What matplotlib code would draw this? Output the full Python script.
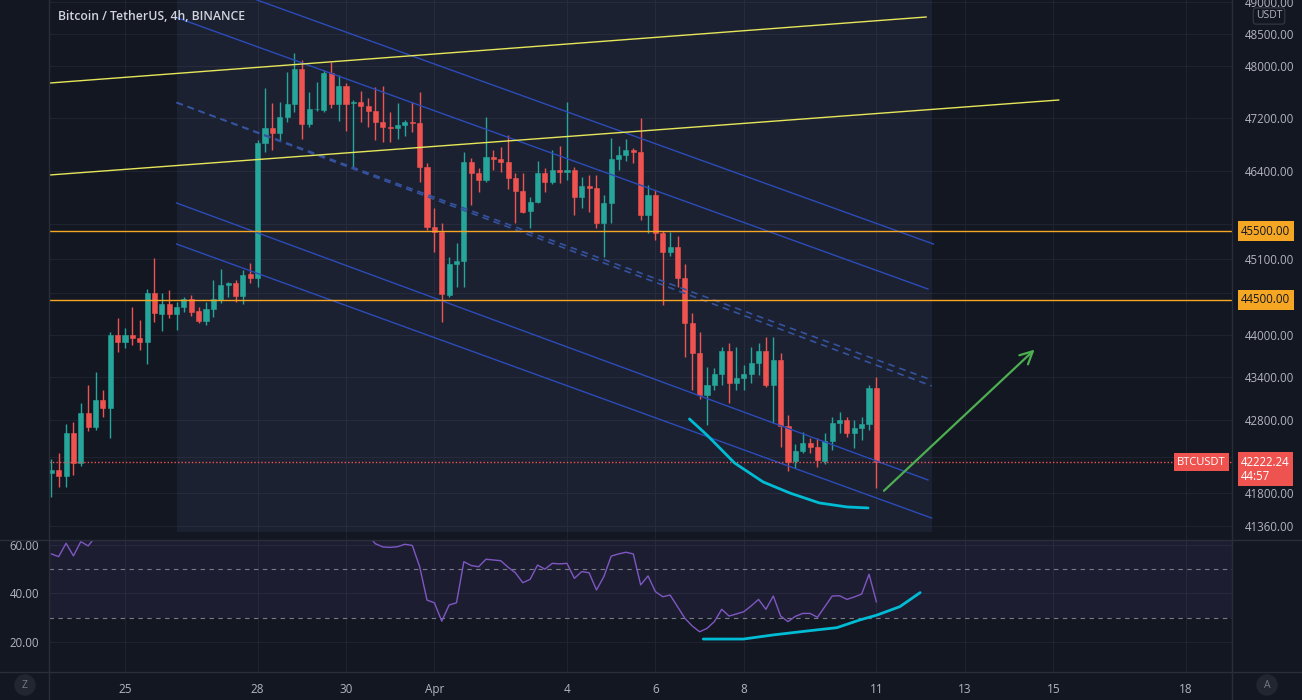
import numpy as np
import pandas as pd
import matplotlib
matplotlib.use('Agg')
import matplotlib.pyplot as plt
import matplotlib.dates as mdates
import matplotlib.transforms as mtransforms
from matplotlib.lines import Line2D
from matplotlib.ticker import NullLocator

# BTC/USDT 4h candles, 2022-03-23 08:00 -> 2022-04-11 00:00
opens = [42075, 42116, 42034, 42623, 42211, 42900, 42706, 43081, 42970, 43997,
         43898, 43997, 43955, 43898, 44599, 44298, 44441, 44298, 44398, 44513,
         44340, 44197, 44369, 44498, 44715, 44744, 44556, 44874, 44816, 46818,
         47046, 46970, 47214, 47414, 47954, 47107, 47330, 47321, 47891, 47414,
         47690, 47429, 47445, 47383, 47306, 47138, 47061, 47050, 47092, 47138,
         47125, 46456, 45562, 45489, 44570, 45020, 45063, 46532, 46366, 46261,
         46607, 46577, 46532, 46291, 46097, 45799, 45933, 46366, 46231, 46411,
         46381, 46411, 46008, 46171, 46141, 45622, 45918, 46577, 46637, 46712,
         46682, 45740, 46038, 45474, 45195, 45268, 44816, 44168, 43742, 43151,
         43291, 43445, 43770, 43319, 43389, 43445, 43600, 43770, 43291, 43642,
         42720, 42239, 42375, 42486, 42431, 42239, 42513, 42761, 42803, 42623,
         42692, 42747, 43249]
highs = [42266, 42348, 42747, 42775, 43039, 43291, 43473, 43221, 44040, 44240,
         44097, 44398, 44211, 44657, 45107, 44599, 44643, 44470, 44542, 44570,
         44398, 44470, 44787, 44947, 44758, 44787, 44933, 45034, 46864, 47660,
         47428, 47444, 47907, 48203, 48094, 47598, 47752, 47938, 48063, 47860,
         47737, 47475, 47614, 47506, 47675, 47690, 47291, 47429, 47168, 47444,
         47598, 46516, 45844, 45622, 45122, 45327, 46682, 46592, 46441, 47214,
         46712, 46757, 46940, 46366, 46366, 46008, 46547, 46441, 46712, 46772,
         47444, 46456, 46306, 46336, 46336, 46038, 46894, 46772, 46879, 46742,
         47199, 46186, 46112, 45500, 45489, 45430, 45020, 44312, 44040, 43543,
         43529, 43826, 43883, 43826, 43571, 43826, 43883, 43968, 43968, 43742,
         42872, 42472, 42637, 42554, 42554, 42623, 42845, 42914, 42845, 42803,
         42845, 43291, 43403]
lows = [41750, 41885, 41885, 42048, 42170, 42650, 42664, 42845, 42554, 43756,
        43812, 43855, 43784, 43586, 44182, 44054, 44240, 44068, 44326, 44269,
        44168, 44140, 44254, 44455, 44542, 44470, 44441, 44744, 44686, 46682,
        46712, 46864, 47138, 47291, 46879, 47061, 47300, 47291, 47352, 47153,
        47000, 46456, 47138, 47061, 46864, 46834, 46834, 46879, 46925, 46986,
        46231, 45518, 45195, 44182, 44542, 44686, 44686, 45888, 46082, 46231,
        46411, 46381, 46127, 45622, 45770, 45548, 45920, 46082, 46201, 46216,
        46261, 45740, 45844, 45785, 45548, 45122, 45622, 46411, 46547, 46516,
        45666, 45474, 45371, 44426, 45136, 44686, 43685, 43221, 43100, 42733,
        43221, 43291, 43039, 43221, 43221, 43319, 43431, 43263, 42761, 42431,
        42102, 42143, 42348, 42348, 42157, 42198, 42389, 42623, 42568, 42417,
        42527, 42664, 41871]
closes = [42116, 42034, 42623, 42211, 42900, 42706, 43081, 42970, 43997, 43898,
          43997, 43955, 43898, 44599, 44312, 44441, 44298, 44398, 44513, 44326,
          44197, 44369, 44513, 44715, 44744, 44556, 44860, 44816, 46818, 47046,
          46970, 47214, 47414, 47954, 47107, 47336, 47340, 47891, 47414, 47690,
          47414, 47445, 47383, 47306, 47138, 47061, 47050, 47092, 47138, 47125,
          46456, 45562, 45489, 44585, 45020, 45063, 46532, 46366, 46261, 46607,
          46577, 46532, 46291, 46097, 45785, 45933, 46366, 46231, 46411, 46381,
          46411, 46008, 46171, 46141, 45622, 45918, 46577, 46637, 46712, 46682,
          45740, 46038, 45474, 45195, 45268, 44816, 44168, 43742, 43151, 43291,
          43445, 43770, 43319, 43389, 43445, 43600, 43770, 43291, 43642, 42720,
          42225, 42375, 42486, 42431, 42252, 42513, 42761, 42803, 42623, 42692,
          42747, 43249, 42222.24]
rsi = [56.3, 55.2, 60.7, 55.5, 61.4, 59.6, 63.5, 62.5, 70.0, 69.0,
       69.5, 69.0, 68.0, 73.0, 68.0, 69.0, 67.5, 68.0, 69.0, 66.5,
       65.0, 67.0, 69.0, 71.0, 71.2, 68.5, 71.0, 70.0, 82.0, 83.5,
       82.0, 83.0, 84.0, 86.0, 72.0, 73.5, 73.5, 76.0, 70.0, 71.5,
       68.0, 68.0, 67.0, 64.0, 60.5, 59.2, 59.0, 59.3, 60.3, 59.8,
       51.0, 37.2, 36.1, 28.5, 35.2, 36.1, 53.1, 51.5, 51.0, 54.1,
       53.8, 53.5, 50.8, 48.5, 44.4, 45.8, 51.7, 50.0, 52.4, 52.2,
       52.4, 46.2, 49.0, 48.5, 41.4, 46.9, 55.4, 56.3, 57.0, 56.3,
       43.5, 47.2, 40.7, 38.6, 39.3, 34.5, 29.7, 26.5, 24.1, 25.5,
       28.3, 33.4, 30.6, 31.5, 32.4, 34.8, 37.5, 33.4, 38.9, 30.6,
       28.3, 30.5, 31.7, 31.7, 30.1, 34.5, 38.9, 39.0, 37.5, 38.5,
       39.7, 47.9, 36.5]
times = pd.date_range('2022-03-23 08:00', periods=len(opens), freq='4h')

# scale marks; the ones under the coloured price boxes only get a grid line
price_ticks = [41360, 41800, 42800, 43400, 44000, 45100, 46400, 47200, 48000, 48500, 49000]
hidden_ticks = [42300, 44600, 45600]
date_ticks = ['2022-03-25', '2022-03-28', '2022-03-30', '2022-04-01', '2022-04-04',
              '2022-04-06', '2022-04-08', '2022-04-11', '2022-04-13', '2022-04-15',
              '2022-04-18']
date_labels = ['25', '28', '30', 'Apr', '4', '6', '8', '11', '13', '15', '18']
levels = [45500, 44500]
last_price = 42222.24

# drawings
rect_t = ['2022-03-26 04:00', '2022-04-12 06:00']
rect_p = [41280, 49500]
chan_t0 = '2022-03-26 04:00'
chan_solid = [(49500, '2022-04-12 07:00', 45312),
              (48759, '2022-04-12 04:00', 44657),
              (45918, '2022-04-12 04:00', 41980),
              (45312, '2022-04-12 06:00', 41466)]
chan_dashed = [(47436, '2022-04-12 06:00', 43361),
               (47436, '2022-04-12 06:00', 43277)]
yellow_t = [('2022-03-23 04:00', '2022-04-12 03:00'), ('2022-03-23 04:00', '2022-04-15 03:00')]
yellow_p = [(47730, 48768), (46330, 47475)]
curve_t = ['2022-04-06 18:30', '2022-04-07 04:00', '2022-04-07 19:00', '2022-04-08 10:30',
           '2022-04-09 01:00', '2022-04-09 17:00', '2022-04-10 08:00', '2022-04-10 19:30']
curve_p = [42817, 42595, 42211, 41953, 41803, 41669, 41615, 41601]
arrow_t = ['2022-04-11 03:00', '2022-04-14 15:00']
arrow_p = [41808, 43817]
rsi_curve_t = ['2022-04-07 02:00', '2022-04-07 23:45', '2022-04-08 16:00', '2022-04-09 10:00',
               '2022-04-10 02:30', '2022-04-10 15:00', '2022-04-11 00:15', '2022-04-11 12:45',
               '2022-04-11 23:45']
rsi_curve_v = [21.1, 21.1, 22.8, 24.4, 25.8, 29.0, 31.0, 34.5, 40.3]

BG = '#131722'
GRID = '#1f2330'
TXT = '#b2b5be'
GREEN = '#26a69a'
RED = '#ef5350'
ORANGE = '#f5a623'
BLUE = '#2b4bb8'
plt.rcParams['font.family'] = ['Open Sans', 'DejaVu Sans']

def dn(s):
    return mdates.date2num(pd.Timestamp(s))

fig = plt.figure(figsize=(13.02, 7.0), dpi=100, facecolor=BG)
ax = fig.add_axes([49 / 1302, 160 / 700, 1183 / 1302, 540 / 700], facecolor=BG)
rx = fig.add_axes([49 / 1302, 28 / 700, 1183 / 1302, 131 / 700], facecolor=BG, sharex=ax)

t = mdates.date2num(times)
o = np.array(opens); h = np.array(highs); l = np.array(lows); c = np.array(closes)
col = np.where(c >= o, GREEN, RED)

ax.set_yscale('log')
ax.set_ylim(41172, 49037)
ax.set_xlim(dn('2022-03-23 06:44'), dn('2022-04-19 01:05'))
ax.set_axisbelow(True)

# highlighted zone
ax.fill_between([dn(rect_t[0]), dn(rect_t[1])], rect_p[0], rect_p[1],
                color='#5d6a96', alpha=0.13, lw=0, zorder=0.6)

ax.vlines(t, l, h, colors=col, lw=1, zorder=3)
ax.bar(t, np.abs(c - o), bottom=np.minimum(o, c), width=0.115, color=col,
       edgecolor=col, lw=0.4, zorder=3.1)

for p0, t1, p1 in chan_solid:
    ax.plot([dn(chan_t0), dn(t1)], [p0, p1], color=BLUE, lw=1, zorder=4)
for p0, t1, p1 in chan_dashed:
    ax.plot([dn(chan_t0), dn(t1)], [p0, p1], color='#34529e', lw=1.2,
            ls=(0, (4, 3)), zorder=4)
for (ta, tb), (pa, pb) in zip(yellow_t, yellow_p):
    ax.plot([dn(ta), dn(tb)], [pa, pb], color='#e6e65a', lw=1, zorder=4)
for lv in levels:
    ax.axhline(lv, color=ORANGE, lw=1, zorder=4)
ax.axhline(last_price, color=RED, lw=1, ls=(0, (1, 1.5)), zorder=4)
for hv in hidden_ticks:
    ax.axhline(hv, color=GRID, lw=0.8, zorder=0.5)

ax.plot([dn(s) for s in curve_t], curve_p, color='#00bcd4', lw=2, zorder=5,
        solid_capstyle='round')
ax.annotate('', xy=(dn(arrow_t[1]), arrow_p[1]), xytext=(dn(arrow_t[0]), arrow_p[0]),
            arrowprops=dict(arrowstyle='->,head_length=0.9,head_width=0.45',
                            color='#4caf50', lw=1.6), zorder=5)

ax.set_yticks(price_ticks, labels=[f'{v:.2f}' for v in price_ticks])
ax.yaxis.set_minor_locator(NullLocator())
ax.yaxis.tick_right()
ax.tick_params(axis='y', length=0, pad=9, labelsize=8.3, labelcolor=TXT)
ax.tick_params(axis='x', length=0, labelbottom=False)
ax.set_xticks([dn(s) for s in date_ticks])
ax.grid(color=GRID, lw=0.8)
for s in ax.spines.values():
    s.set_visible(False)

# price labels on the scale
trans = mtransforms.blended_transform_factory(ax.transAxes, ax.transData)
for lv in levels:
    ax.annotate(f'{lv:.2f}', xy=(1.0, lv), xycoords=trans, xytext=(9, 0),
                textcoords='offset pixels', ha='left', va='center', fontsize=8.3,
                color='#131722', annotation_clip=False, zorder=10,
                bbox=dict(boxstyle='square,pad=0.3', fc=ORANGE, ec='none'))
ax.annotate(f'{last_price:.2f}\n44:57', xy=(1.0, last_price), xycoords=trans,
            xytext=(9, -7), textcoords='offset pixels', ha='left', va='center',
            fontsize=8.3, color='white', linespacing=1.1, annotation_clip=False,
            zorder=10, bbox=dict(boxstyle='square,pad=0.3', fc=RED, ec='none'))
ax.annotate('BTCUSDT', xy=(1.0, last_price), xycoords=trans, xytext=(-6, 0),
            textcoords='offset pixels', ha='right', va='center', fontsize=8,
            color='white', annotation_clip=False, zorder=10,
            bbox=dict(boxstyle='square,pad=0.3', fc=RED, ec='none'))

# RSI pane
rx.set_ylim(7.47, 61.65)
rx.axhspan(30, 70, color='#7e57c2', alpha=0.1, lw=0, zorder=0.7)
rx.axhline(50, color='#787b86', lw=0.8, ls=(0, (4, 4)), zorder=1)
rx.axhline(30, color='#787b86', lw=0.8, ls=(0, (4, 4)), zorder=1)
rx.plot(t, rsi, color='#7e57c2', lw=1, zorder=3)
rx.plot([dn(s) for s in rsi_curve_t], rsi_curve_v, color='#00bcd4', lw=2, zorder=4,
        solid_capstyle='round')
rx.set_yticks([20, 40, 60], labels=['20.00', '40.00', '60.00'])
rx.tick_params(axis='y', length=0, pad=7, labelsize=8.3, labelcolor=TXT)
rx.set_xticks([dn(s) for s in date_ticks], labels=date_labels)
rx.tick_params(axis='x', length=0, pad=8, labelsize=8.5, labelcolor=TXT)
rx.grid(color=GRID, lw=0.8)
rx.set_axisbelow(True)
for s in rx.spines.values():
    s.set_visible(False)

# pane separators
sep = '#2a2e39'
fig.add_artist(Line2D([0, 1], [160 / 700, 160 / 700], color=sep, lw=1))
fig.add_artist(Line2D([0, 1], [28 / 700, 28 / 700], color=sep, lw=1))
fig.add_artist(Line2D([49 / 1302, 49 / 1302], [0, 1], color=sep, lw=1))
fig.add_artist(Line2D([1232 / 1302, 1232 / 1302], [0, 1], color=sep, lw=1))

fig.text(58 / 1302, 1 - 16 / 700, 'Bitcoin / TetherUS, 4h, BINANCE', ha='left',
         va='center', fontsize=8.8, fontweight='semibold', color='#d1d4dc')
fig.text(1269 / 1302, 1 - 16 / 700, 'USDT', ha='center', va='center', fontsize=7.5,
         color=TXT, zorder=10,
         bbox=dict(boxstyle='round,pad=0.25', fc=BG, ec='#363a45', lw=0.8))
for xp, s in [(25, 'Z'), (1267, 'A')]:
    fig.text(xp / 1302, 1 - 685 / 700, s, ha='center', va='center', fontsize=7.5,
             color='#787b86', bbox=dict(boxstyle='circle,pad=0.5', fc='#222631', ec='none'))

fig.savefig('out.png', dpi=100, facecolor=BG)
